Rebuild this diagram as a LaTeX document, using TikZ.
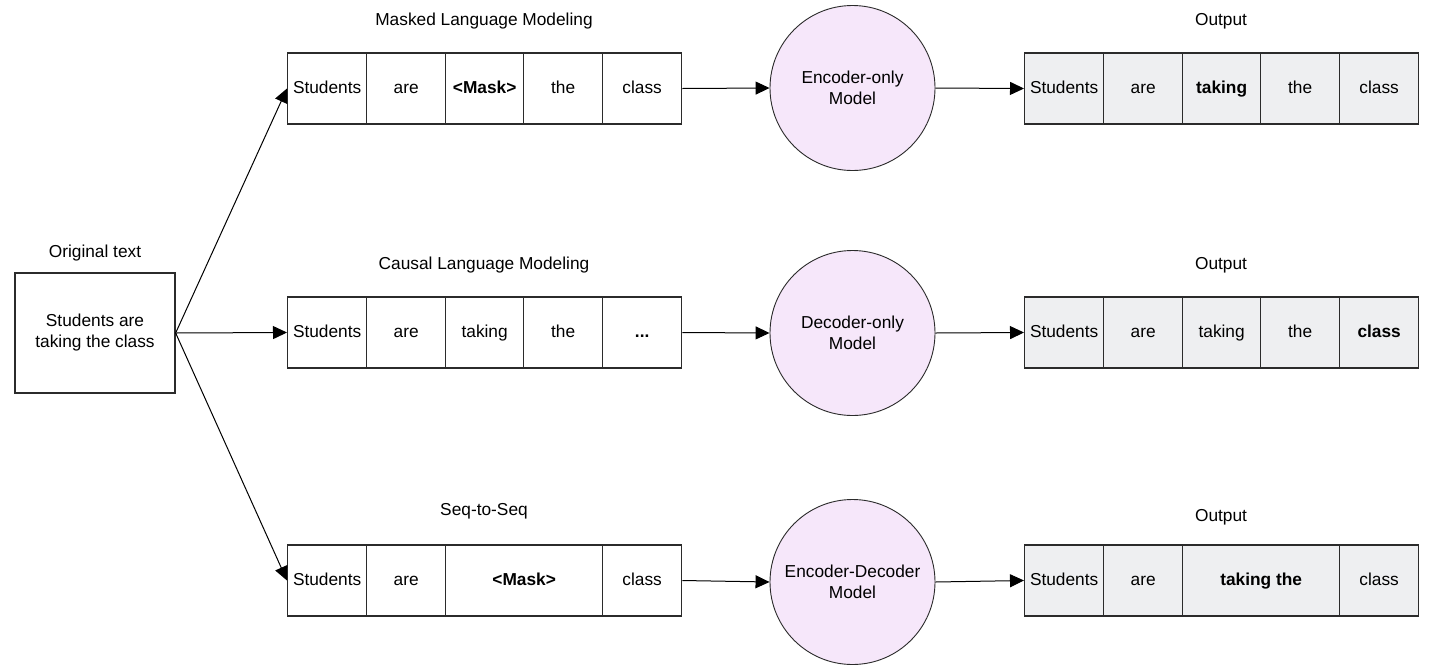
\documentclass[tikz,border=0pt]{standalone}
\usepackage{fontspec}
\setmainfont{Liberation Sans}
\usetikzlibrary{arrows.meta}
\definecolor{modelfill}{HTML}{F6E7FA}
\definecolor{outfill}{HTML}{EEEFF1}
\definecolor{edge}{HTML}{2B2B2B}
\newcommand{\fsz}{\fontsize{17.3}{21}\selectfont}
\tikzset{
  cell/.style={draw=edge, line width=1.3pt, minimum height=71pt, inner sep=0pt, font=\fsz, anchor=west, fill=white, text height=12.5pt, text depth=3.5pt},
  ocell/.style={cell, fill=outfill},
  model/.style={circle, draw=edge, line width=0.9pt, fill=modelfill, minimum size=165pt, inner sep=0pt, font=\fsz, align=center},
  lbl/.style={font=\fsz, inner sep=0pt},
  conn/.style={line width=1pt, -{Triangle[length=14pt,width=13pt]}},
}
\begin{document}
\begin{tikzpicture}[x=1pt,y=-1pt]
\useasboundingbox (0,0) rectangle (1430,670);
\fill[white] (0,0) rectangle (1430,670);

% original text
\node[lbl] (origlbl) at (95,253) {Original text};
\node[draw=edge, line width=1.3pt, minimum width=160pt, minimum height=120pt, font=\fsz, align=center, inner sep=0pt] (orig) at (95,333) {Students are\\taking the class};

% row 1
\node[lbl] (l1) at (484,21) {Masked Language Modeling};
\node[cell, minimum width=79pt] (a1) at (287,88.5) {Students};
\node[cell, minimum width=79pt] (a2) at (366,88.5) {are};
\node[cell, minimum width=79pt] (a3) at (444.5,88.5) {\textbf{<Mask>}};
\node[cell, minimum width=79pt] (a4) at (523,88.5) {the};
\node[cell, minimum width=79pt] (a5) at (602,88.5) {class};
\node[model] (m1) at (852.5,88) {Encoder-only\\Model};
\node[lbl] (o1lbl) at (1221,21) {Output};
\node[ocell, minimum width=79pt] (b1) at (1024,88.5) {Students};
\node[ocell, minimum width=79pt] (b2) at (1103,88.5) {are};
\node[ocell, minimum width=79pt] (b3) at (1181.5,88.5) {\textbf{taking}};
\node[ocell, minimum width=79pt] (b4) at (1260,88.5) {the};
\node[ocell, minimum width=79pt] (b5) at (1339,88.5) {class};

% row 2
\node[lbl] (l2) at (484,265) {Causal Language Modeling};
\node[cell, minimum width=79pt] (c1) at (287,332.5) {Students};
\node[cell, minimum width=79pt] (c2) at (366,332.5) {are};
\node[cell, minimum width=79pt] (c3) at (444.5,332.5) {taking};
\node[cell, minimum width=79pt] (c4) at (523,332.5) {the};
\node[cell, minimum width=79pt] (c5) at (602,332.5) {\textbf{...}};
\node[model] (m2) at (852.5,333) {Decoder-only\\Model};
\node[lbl] (o2lbl) at (1221,265) {Output};
\node[ocell, minimum width=79pt] (d1) at (1024,332.5) {Students};
\node[ocell, minimum width=79pt] (d2) at (1103,332.5) {are};
\node[ocell, minimum width=79pt] (d3) at (1181.5,332.5) {taking};
\node[ocell, minimum width=79pt] (d4) at (1260,332.5) {the};
\node[ocell, minimum width=79pt] (d5) at (1339,332.5) {\textbf{class}};

% row 3
\node[lbl] (l3) at (484,511) {Seq-to-Seq};
\node[cell, minimum width=79pt] (e1) at (287,580.5) {Students};
\node[cell, minimum width=79pt] (e2) at (366,580.5) {are};
\node[cell, minimum width=158pt] (e3) at (444.5,580.5) {\textbf{<Mask>}};
\node[cell, minimum width=79pt] (e4) at (602,580.5) {class};
\node[model] (m3) at (852.5,582) {Encoder-Decoder\\Model};
\node[lbl] (o3lbl) at (1221,517) {Output};
\node[ocell, minimum width=79pt] (f1) at (1024,580.5) {Students};
\node[ocell, minimum width=79pt] (f2) at (1103,580.5) {are};
\node[ocell, minimum width=158pt] (f3) at (1181.5,580.5) {\textbf{taking the}};
\node[ocell, minimum width=79pt] (f4) at (1339,580.5) {class};

% connectors
\draw[conn] (orig.east) -- (a1.west);
\draw[conn] (orig.east) -- (c1.west);
\draw[conn] (orig.east) -- (e1.west);
\draw[conn] (a5.east) -- (m1.west);
\draw[conn] (m1.east) -- (b1.west);
\draw[conn] (c5.east) -- (m2.west);
\draw[conn] (m2.east) -- (d1.west);
\draw[conn] (e4.east) -- (m3.west);
\draw[conn] (m3.east) -- (f1.west);
\end{tikzpicture}
\end{document}
